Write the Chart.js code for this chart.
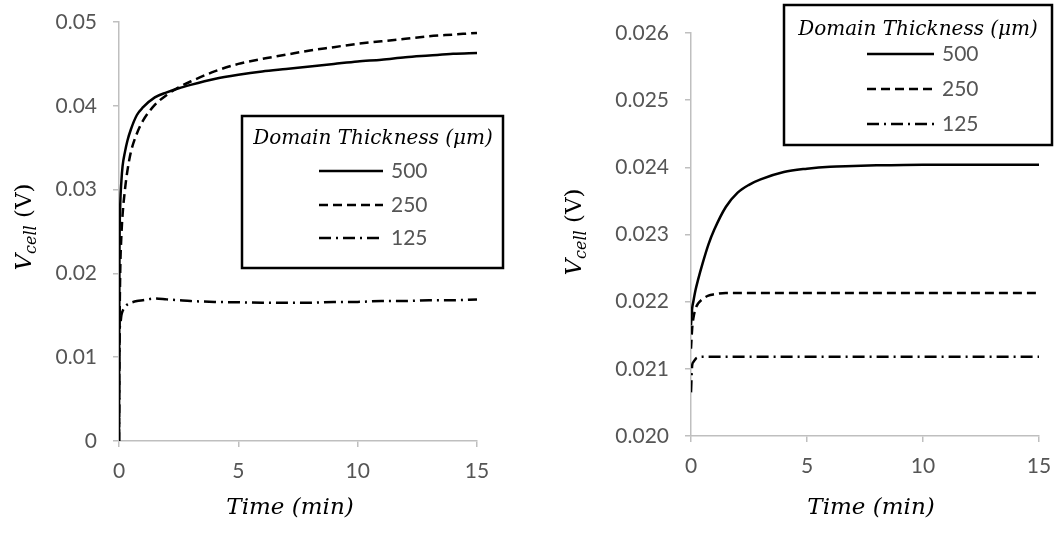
<!DOCTYPE html>
<html>
<head>
<meta charset="utf-8">
<script src="https://cdn.jsdelivr.net/npm/chart.js@4.4.1/dist/chart.umd.min.js"></script>
<style>
  body { margin: 0; background: #fff; }
  #wrap { position: relative; width: 1054px; height: 541px; }
  canvas { position: absolute; top: 0; }
</style>
</head>
<body>
<div id="wrap">
  <canvas id="left" width="530" height="541" style="left:0"></canvas>
  <canvas id="right" width="524" height="541" style="left:530px"></canvas>
</div>
<script>
// legend labels (domain thickness, um)
const thickness = ['500', '250', '125'];

// left panel
const timeL = [0, 0.02, 0.05, 0.1, 0.15, 0.25, 0.35, 0.5, 0.75, 1, 1.5, 2, 2.5, 3, 4, 5, 6, 7, 8, 9, 10, 11, 12, 13, 14, 15];
const v500L = [0, 0.022, 0.028, 0.031, 0.0328, 0.0345, 0.0358, 0.0372, 0.0389, 0.0398, 0.0410, 0.0416, 0.0421, 0.0425, 0.0432, 0.0437, 0.0441, 0.0444, 0.0447, 0.0450, 0.0453, 0.0455, 0.0458, 0.0460, 0.0462, 0.0463];
const v250L = [0, 0.012, 0.020, 0.0245, 0.0270, 0.0300, 0.0322, 0.0345, 0.0367, 0.0382, 0.0401, 0.0413, 0.0422, 0.0429, 0.0441, 0.0450, 0.0456, 0.0461, 0.0466, 0.0470, 0.0474, 0.0477, 0.0480, 0.0483, 0.0485, 0.0487];
const v125L = [0, 0.0125, 0.0138, 0.0150, 0.0155, 0.0160, 0.0163, 0.0165, 0.0167, 0.0168, 0.0170, 0.0169, 0.0168, 0.0167, 0.0166, 0.01655, 0.0165, 0.0165, 0.0165, 0.0166, 0.0166, 0.0167, 0.0167, 0.0168, 0.0168, 0.0169];

// right panel
const timeR = [0, 0.05, 0.1, 0.2, 0.3, 0.5, 0.75, 1, 1.5, 2, 2.5, 3, 4, 5, 6, 7, 8, 10, 12, 15];
const v500R = [0.02165, 0.0219, 0.0220, 0.02218, 0.02232, 0.02257, 0.02285, 0.02307, 0.02341, 0.02362, 0.02374, 0.02382, 0.02393, 0.02398, 0.02401, 0.02402, 0.02403, 0.02404, 0.02404, 0.02404];
const v250R = [0.0213, 0.0216, 0.02175, 0.0219, 0.02197, 0.02204, 0.02209, 0.02211, 0.02213, 0.02213, 0.02213, 0.02213, 0.02213, 0.02213, 0.02213, 0.02213, 0.02213, 0.02213, 0.02213, 0.02213];
const v125R = [0.02065, 0.02105, 0.0211, 0.02115, 0.02117, 0.02118, 0.02118, 0.02118, 0.02118, 0.02118, 0.02118, 0.02118, 0.02118, 0.02118, 0.02118, 0.02118, 0.02118, 0.02118, 0.02118, 0.02118];

const xTicks = [0, 5, 10, 15];
const yTicksL = ['0', '0.01', '0.02', '0.03', '0.04', '0.05'];
const yTicksR = ['0.020', '0.021', '0.022', '0.023', '0.024', '0.025', '0.026'];

const legendTitle = 'Domain Thickness (\u03bcm)';
const xTitle = 'Time (min)';

const tickFont = { family: 'Lato', size: 21 };
const tickColor = '#555555';
const serif = 'italic 23px "DejaVu Serif"';
const dashes = [[], [9, 5], [12, 5, 2, 5]];

function pts(t, v) { return t.map((x, i) => ({ x: x, y: v[i] })); }

// boxed legend with title, drawn from the datasets
const boxLegend = {
  id: 'boxLegend',
  afterDraw(chart, args, o) {
    const ctx = chart.ctx;
    ctx.save();
    ctx.fillStyle = '#fff';
    ctx.fillRect(o.x, o.y, o.w, o.h);
    ctx.lineWidth = 2.5;
    ctx.strokeStyle = '#000';
    ctx.setLineDash([]);
    ctx.strokeRect(o.x, o.y, o.w, o.h);
    ctx.fillStyle = '#000';
    ctx.font = 'italic 20px "DejaVu Serif"';
    ctx.textAlign = 'center';
    ctx.textBaseline = 'middle';
    ctx.fillText(legendTitle, o.titleX, o.titleY);
    chart.data.datasets.forEach((ds, i) => {
      const y = o.rows[i];
      ctx.beginPath();
      ctx.setLineDash(ds.borderDash || []);
      ctx.lineWidth = ds.borderWidth;
      ctx.strokeStyle = ds.borderColor;
      ctx.moveTo(o.lx0, y);
      ctx.lineTo(o.lx1, y);
      ctx.stroke();
      ctx.setLineDash([]);
      ctx.fillStyle = tickColor;
      ctx.font = '21px Lato';
      ctx.textAlign = 'left';
      ctx.fillText(ds.label, o.tx, y);
    });
    ctx.restore();
  }
};

// axis titles, the y one has a subscript
const axisTitles = {
  id: 'axisTitles',
  afterDraw(chart, args, o) {
    const ctx = chart.ctx;
    ctx.save();
    ctx.fillStyle = '#000';
    ctx.textBaseline = 'middle';
    ctx.textAlign = 'center';
    ctx.font = serif;
    ctx.fillText(xTitle, o.xx, o.xy);

    const big = serif, small = 'italic 16px "DejaVu Serif"', plain = '23px "DejaVu Serif"';
    ctx.font = big;
    const w1 = ctx.measureText('V').width;
    ctx.font = plain;
    const w3 = ctx.measureText(' (V)').width;
    ctx.font = small;
    const w2 = ctx.measureText('cell').width;
    const total = w1 + w2 + w3;
    ctx.translate(o.yx, o.yy);
    ctx.rotate(-Math.PI / 2);
    ctx.textAlign = 'left';
    let p = -total / 2;
    ctx.font = big;
    ctx.fillText('V', p, 0);
    p += w1;
    ctx.font = small;
    ctx.fillText('cell', p, 7);
    p += w2;
    ctx.font = plain;
    ctx.fillText(' (V)', p, 0);
    ctx.restore();
  }
};

function makeChart(id, t, series, yMin, yMax, yStep, yLabels, pad, yWidth, xHeight, legendOpts, titleOpts) {
  return new Chart(document.getElementById(id), {
    type: 'line',
    data: {
      datasets: series.map((v, i) => ({
        label: thickness[i],
        data: pts(t, v),
        borderColor: '#000',
        borderWidth: 2.5,
        borderDash: dashes[i],
        pointRadius: 0,
        cubicInterpolationMode: 'monotone',
        fill: false
      }))
    },
    options: {
      responsive: false,
      animation: false,
      layout: { padding: pad },
      plugins: {
        legend: { display: false },
        tooltip: { enabled: false },
        boxLegend: legendOpts,
        axisTitles: titleOpts
      },
      scales: {
        x: {
          type: 'linear',
          min: 0, max: 15,
          afterFit: s => { s.height = xHeight; s.paddingLeft = 0; s.paddingRight = 0; },
          afterBuildTicks: s => { s.ticks = xTicks.map(v => ({ value: v })); },
          ticks: { font: tickFont, color: tickColor, padding: 12, maxRotation: 0 },
          grid: { drawOnChartArea: false, drawTicks: true, tickLength: 6, color: '#bfbfbf', lineWidth: 1.5 },
          border: { color: '#bfbfbf', width: 1.5 }
        },
        y: {
          min: yMin, max: yMax,
          afterFit: s => { s.width = yWidth; s.paddingTop = 0; s.paddingBottom = 0; },
          ticks: {
            stepSize: yStep,
            font: tickFont, color: tickColor, padding: 16,
            callback: (v, i) => yLabels[i]
          },
          grid: { drawOnChartArea: false, drawTicks: true, tickLength: 6, color: '#bfbfbf', lineWidth: 1.5 },
          border: { color: '#bfbfbf', width: 1.5 }
        }
      }
    },
    plugins: [boxLegend, axisTitles]
  });
}

makeChart('left', timeL, [v500L, v250L, v125L], 0, 0.05, 0.01, yTicksL,
  { top: 22, right: 53, left: 0, bottom: 0 }, 119, 100,
  { x: 242, y: 116, w: 261, h: 152, titleX: 373, titleY: 139, rows: [171, 205, 238], lx0: 319, lx1: 383, tx: 391 },
  { xx: 290, xy: 508, yx: 25, yy: 227 });

makeChart('right', timeR, [v500R, v250R, v125R], 0.020, 0.026, 0.001, yTicksR,
  { top: 33, right: 15, left: 0, bottom: 0 }, 161, 105,
  { x: 254, y: 5, w: 268, h: 140, titleX: 388, titleY: 30, rows: [54, 89, 124], lx0: 337, lx1: 404, tx: 412 },
  { xx: 341, xy: 508, yx: 45, yy: 232 });
</script>
</body>
</html>
